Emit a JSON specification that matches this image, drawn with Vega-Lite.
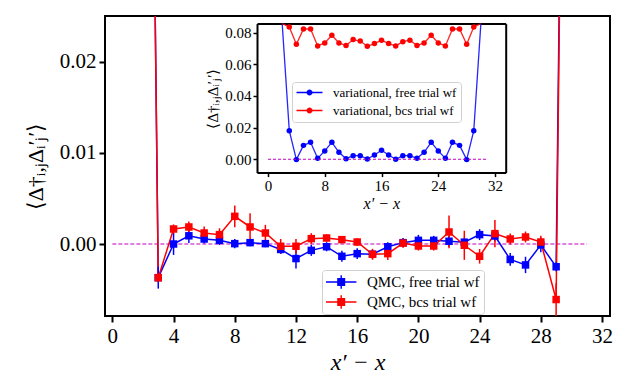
{
  "$schema": "https://vega.github.io/schema/vega-lite/v6.json",
  "width": 505,
  "height": 300,
  "autosize": "none",
  "padding": {"left": 105, "top": 16, "right": 19, "bottom": 63},
  "background": "white",
  "config": {"view": {"stroke": "black", "strokeWidth": 2}, "font": "Liberation Serif"},
  "datasets": {
    "qmc": [
      {"x": 2, "v": 0.14, "err": null, "s": "QMC, free trial wf"},
      {"x": 3, "v": -0.0037, "err": 0.0012, "s": "QMC, free trial wf"},
      {"x": 4, "v": 0.0, "err": 0.0012, "s": "QMC, free trial wf"},
      {"x": 5, "v": 0.0009, "err": 0.0008, "s": "QMC, free trial wf"},
      {"x": 6, "v": 0.00055, "err": 0.0005, "s": "QMC, free trial wf"},
      {"x": 7, "v": 0.0004, "err": 0.0005, "s": "QMC, free trial wf"},
      {"x": 8, "v": 0.00004, "err": 0.0005, "s": "QMC, free trial wf"},
      {"x": 9, "v": 0.00015, "err": 0.0004, "s": "QMC, free trial wf"},
      {"x": 10, "v": 0.00004, "err": 0.0004, "s": "QMC, free trial wf"},
      {"x": 11, "v": -0.0006, "err": 0.0005, "s": "QMC, free trial wf"},
      {"x": 12, "v": -0.0016, "err": 0.0011, "s": "QMC, free trial wf"},
      {"x": 13, "v": -0.0007, "err": 0.0006, "s": "QMC, free trial wf"},
      {"x": 14, "v": -0.0003, "err": 0.0005, "s": "QMC, free trial wf"},
      {"x": 15, "v": -0.00135, "err": 0.0006, "s": "QMC, free trial wf"},
      {"x": 16, "v": -0.00106, "err": 0.0006, "s": "QMC, free trial wf"},
      {"x": 17, "v": -0.00113, "err": 0.0005, "s": "QMC, free trial wf"},
      {"x": 18, "v": -0.0003, "err": 0.0005, "s": "QMC, free trial wf"},
      {"x": 19, "v": 0.00015, "err": 0.0005, "s": "QMC, free trial wf"},
      {"x": 20, "v": 0.0004, "err": 0.0006, "s": "QMC, free trial wf"},
      {"x": 21, "v": 0.0004, "err": 0.0005, "s": "QMC, free trial wf"},
      {"x": 22, "v": 0.0003, "err": 0.0006, "s": "QMC, free trial wf"},
      {"x": 23, "v": 0.0002, "err": 0.0005, "s": "QMC, free trial wf"},
      {"x": 24, "v": 0.00103, "err": 0.0006, "s": "QMC, free trial wf"},
      {"x": 25, "v": 0.00088, "err": 0.0006, "s": "QMC, free trial wf"},
      {"x": 26, "v": -0.0017, "err": 0.0007, "s": "QMC, free trial wf"},
      {"x": 27, "v": -0.0023, "err": 0.0009, "s": "QMC, free trial wf"},
      {"x": 28, "v": -0.0001, "err": 0.0008, "s": "QMC, free trial wf"},
      {"x": 29, "v": -0.0025, "err": 0.0005, "s": "QMC, free trial wf"},
      {"x": 30, "v": 0.14, "err": null, "s": "QMC, free trial wf"},
      {"x": 2, "v": 0.14, "err": null, "s": "QMC, bcs trial wf"},
      {"x": 3, "v": -0.0037, "err": 0.0005, "s": "QMC, bcs trial wf"},
      {"x": 4, "v": 0.00165, "err": 0.0005, "s": "QMC, bcs trial wf"},
      {"x": 5, "v": 0.00187, "err": 0.0006, "s": "QMC, bcs trial wf"},
      {"x": 6, "v": 0.00121, "err": 0.0007, "s": "QMC, bcs trial wf"},
      {"x": 7, "v": 0.00103, "err": 0.0007, "s": "QMC, bcs trial wf"},
      {"x": 8, "v": 0.00304, "err": 0.0012, "s": "QMC, bcs trial wf"},
      {"x": 9, "v": 0.00187, "err": 0.0015, "s": "QMC, bcs trial wf"},
      {"x": 10, "v": 0.00121, "err": 0.0009, "s": "QMC, bcs trial wf"},
      {"x": 11, "v": -0.00025, "err": 0.0008, "s": "QMC, bcs trial wf"},
      {"x": 12, "v": -0.00025, "err": 0.0008, "s": "QMC, bcs trial wf"},
      {"x": 13, "v": 0.00059, "err": 0.0006, "s": "QMC, bcs trial wf"},
      {"x": 14, "v": 0.00066, "err": 0.0004, "s": "QMC, bcs trial wf"},
      {"x": 15, "v": 0.00048, "err": 0.0004, "s": "QMC, bcs trial wf"},
      {"x": 16, "v": 0.00022, "err": 0.0004, "s": "QMC, bcs trial wf"},
      {"x": 17, "v": -0.00113, "err": 0.0006, "s": "QMC, bcs trial wf"},
      {"x": 18, "v": -0.00106, "err": 0.0007, "s": "QMC, bcs trial wf"},
      {"x": 19, "v": 0.0001, "err": 0.0005, "s": "QMC, bcs trial wf"},
      {"x": 20, "v": -0.00022, "err": 0.0005, "s": "QMC, bcs trial wf"},
      {"x": 21, "v": -0.00022, "err": 0.0005, "s": "QMC, bcs trial wf"},
      {"x": 22, "v": 0.00132, "err": 0.0018, "s": "QMC, bcs trial wf"},
      {"x": 23, "v": -0.00014, "err": 0.0016, "s": "QMC, bcs trial wf"},
      {"x": 24, "v": -0.00135, "err": 0.0008, "s": "QMC, bcs trial wf"},
      {"x": 25, "v": 0.00114, "err": 0.0015, "s": "QMC, bcs trial wf"},
      {"x": 26, "v": 0.00055, "err": 0.0006, "s": "QMC, bcs trial wf"},
      {"x": 27, "v": 0.00077, "err": 0.0006, "s": "QMC, bcs trial wf"},
      {"x": 28, "v": 0.00022, "err": 0.0007, "s": "QMC, bcs trial wf"},
      {"x": 29, "v": -0.0061, "err": 0.0018, "s": "QMC, bcs trial wf"},
      {"x": 30, "v": 0.14, "err": null, "s": "QMC, bcs trial wf"}
    ],
    "var": [
      {"x": 2, "v": 0.25, "s": "variational, free trial wf"},
      {"x": 3, "v": 0.0181, "s": "variational, free trial wf"},
      {"x": 4, "v": -0.0002, "s": "variational, free trial wf"},
      {"x": 5, "v": 0.0088, "s": "variational, free trial wf"},
      {"x": 6, "v": 0.0107, "s": "variational, free trial wf"},
      {"x": 7, "v": 0.0006, "s": "variational, free trial wf"},
      {"x": 8, "v": 0.0053, "s": "variational, free trial wf"},
      {"x": 9, "v": 0.0107, "s": "variational, free trial wf"},
      {"x": 10, "v": 0.0044, "s": "variational, free trial wf"},
      {"x": 11, "v": 0.0004, "s": "variational, free trial wf"},
      {"x": 12, "v": 0.0023, "s": "variational, free trial wf"},
      {"x": 13, "v": 0.0023, "s": "variational, free trial wf"},
      {"x": 14, "v": 0.0002, "s": "variational, free trial wf"},
      {"x": 15, "v": 0.0027, "s": "variational, free trial wf"},
      {"x": 16, "v": 0.0057, "s": "variational, free trial wf"},
      {"x": 17, "v": 0.0027, "s": "variational, free trial wf"},
      {"x": 18, "v": 0.0, "s": "variational, free trial wf"},
      {"x": 19, "v": 0.0023, "s": "variational, free trial wf"},
      {"x": 20, "v": 0.0023, "s": "variational, free trial wf"},
      {"x": 21, "v": 0.0006, "s": "variational, free trial wf"},
      {"x": 22, "v": 0.0044, "s": "variational, free trial wf"},
      {"x": 23, "v": 0.0107, "s": "variational, free trial wf"},
      {"x": 24, "v": 0.0053, "s": "variational, free trial wf"},
      {"x": 25, "v": 0.0006, "s": "variational, free trial wf"},
      {"x": 26, "v": 0.0107, "s": "variational, free trial wf"},
      {"x": 27, "v": 0.0088, "s": "variational, free trial wf"},
      {"x": 28, "v": -0.0002, "s": "variational, free trial wf"},
      {"x": 29, "v": 0.0181, "s": "variational, free trial wf"},
      {"x": 30, "v": 0.25, "s": "variational, free trial wf"},
      {"x": 2, "v": 0.25, "s": "variational, bcs trial wf"},
      {"x": 3, "v": 0.0836, "s": "variational, bcs trial wf"},
      {"x": 4, "v": 0.0726, "s": "variational, bcs trial wf"},
      {"x": 5, "v": 0.0823, "s": "variational, bcs trial wf"},
      {"x": 6, "v": 0.0823, "s": "variational, bcs trial wf"},
      {"x": 7, "v": 0.0716, "s": "variational, bcs trial wf"},
      {"x": 8, "v": 0.0735, "s": "variational, bcs trial wf"},
      {"x": 9, "v": 0.0783, "s": "variational, bcs trial wf"},
      {"x": 10, "v": 0.0735, "s": "variational, bcs trial wf"},
      {"x": 11, "v": 0.0718, "s": "variational, bcs trial wf"},
      {"x": 12, "v": 0.0756, "s": "variational, bcs trial wf"},
      {"x": 13, "v": 0.0747, "s": "variational, bcs trial wf"},
      {"x": 14, "v": 0.0714, "s": "variational, bcs trial wf"},
      {"x": 15, "v": 0.0731, "s": "variational, bcs trial wf"},
      {"x": 16, "v": 0.0752, "s": "variational, bcs trial wf"},
      {"x": 17, "v": 0.0731, "s": "variational, bcs trial wf"},
      {"x": 18, "v": 0.0716, "s": "variational, bcs trial wf"},
      {"x": 19, "v": 0.0743, "s": "variational, bcs trial wf"},
      {"x": 20, "v": 0.0752, "s": "variational, bcs trial wf"},
      {"x": 21, "v": 0.0718, "s": "variational, bcs trial wf"},
      {"x": 22, "v": 0.0735, "s": "variational, bcs trial wf"},
      {"x": 23, "v": 0.0783, "s": "variational, bcs trial wf"},
      {"x": 24, "v": 0.0735, "s": "variational, bcs trial wf"},
      {"x": 25, "v": 0.0716, "s": "variational, bcs trial wf"},
      {"x": 26, "v": 0.0823, "s": "variational, bcs trial wf"},
      {"x": 27, "v": 0.0823, "s": "variational, bcs trial wf"},
      {"x": 28, "v": 0.0726, "s": "variational, bcs trial wf"},
      {"x": 29, "v": 0.0836, "s": "variational, bcs trial wf"},
      {"x": 30, "v": 0.25, "s": "variational, bcs trial wf"}
    ],
    "zero": [{"a": 0, "b": 31, "y": 0}]
  },
  "layer": [
    {
      "data": {"name": "zero"},
      "mark": {"type": "rule", "color": "#bf00bf", "strokeWidth": 1.2, "strokeDash": [4, 2]},
      "encoding": {
        "x": {"field": "a", "type": "quantitative", "scale": {"domain": [-0.48, 32.52], "nice": false, "zero": false},
          "axis": {"orient": "bottom", "values": [0, 4, 8, 12, 16, 20, 24, 28, 32], "title": "x′ − x", "grid": false, "domain": false,
            "tickColor": "black", "tickWidth": 2, "tickSize": 6, "labelFont": "Liberation Serif", "labelFontSize": 21, "labelColor": "black",
            "labelPadding": 3, "labelFlush": false, "labelOverlap": false, "titleFont": "Liberation Serif", "titleFontStyle": "italic",
            "titleFontWeight": "normal", "titleFontSize": 24, "titleColor": "black", "titlePadding": 4}},
        "x2": {"field": "b"},
        "y": {"field": "y", "type": "quantitative", "scale": {"domain": [-0.00791, 0.02505], "nice": false, "zero": false},
          "axis": {"orient": "left", "values": [0, 0.01, 0.02], "format": ".2f", "title": "⟨Δ†ᵢ,ⱼΔᵢ′ⱼ′⟩", "grid": false, "domain": false,
            "tickColor": "black", "tickWidth": 2, "tickSize": 6, "labelFont": "Liberation Serif", "labelFontSize": 21, "labelColor": "black",
            "labelPadding": 3, "titleFont": "Liberation Serif", "titleFontWeight": "normal", "titleFontSize": 22, "titleColor": "black", "titlePadding": 12}}
      }
    },
    {
      "data": {"name": "qmc"},
      "mark": {"type": "line", "clip": true, "strokeWidth": 1.5},
      "encoding": {
        "x": {"field": "x", "type": "quantitative", "scale": {"domain": [-0.48, 32.52], "nice": false, "zero": false}, "axis": null},
        "y": {"field": "v", "type": "quantitative", "scale": {"domain": [-0.00791, 0.02505], "nice": false, "zero": false}, "axis": null},
        "color": {"field": "s", "type": "nominal", "scale": {"domain": ["QMC, free trial wf", "QMC, bcs trial wf"], "range": ["#0000ff", "#ff0000"]}, "legend": null}
      }
    },
    {
      "data": {"name": "qmc"},
      "transform": [{"filter": "isValid(datum.err)"}],
      "mark": {"type": "errorbar", "thickness": 1.5},
      "encoding": {
        "x": {"field": "x", "type": "quantitative", "scale": {"domain": [-0.48, 32.52], "nice": false, "zero": false}, "axis": null},
        "y": {"field": "v", "type": "quantitative", "scale": {"domain": [-0.00791, 0.02505], "nice": false, "zero": false}, "axis": null},
        "yError": {"field": "err"},
        "color": {"field": "s", "type": "nominal", "scale": {"domain": ["QMC, free trial wf", "QMC, bcs trial wf"], "range": ["#0000ff", "#ff0000"]}, "legend": null}
      }
    },
    {
      "data": {"name": "qmc"},
      "transform": [{"filter": "isValid(datum.err)"}],
      "mark": {"type": "point", "shape": "square", "filled": true, "size": 56, "opacity": 1},
      "encoding": {
        "x": {"field": "x", "type": "quantitative", "scale": {"domain": [-0.48, 32.52], "nice": false, "zero": false}, "axis": null},
        "y": {"field": "v", "type": "quantitative", "scale": {"domain": [-0.00791, 0.02505], "nice": false, "zero": false}, "axis": null},
        "color": {"field": "s", "type": "nominal", "scale": {"domain": ["QMC, free trial wf", "QMC, bcs trial wf"], "range": ["#0000ff", "#ff0000"]},
          "legend": {"orient": "none", "legendX": 217, "legendY": 254, "title": null,
            "symbolType": "M-1,-0.09H2.8V0.09H-1Z M0.4,-0.5H1.4V0.5H0.4Z M0.81,-0.85H0.99V0.85H0.81Z",
            "symbolSize": 256, "symbolStrokeWidth": 0, "symbolOpacity": 1, "labelFont": "Liberation Serif", "labelFontSize": 15, "labelColor": "black",
            "labelOffset": 25, "fillColor": "white", "strokeColor": "#d0d0d0", "cornerRadius": 3, "padding": 4, "rowPadding": 4}}
      }
    },
    {
      "data": {"name": "var"},
      "mark": {"type": "line", "strokeWidth": 1.3, "opacity": 0.85},
      "encoding": {
        "x": {"field": "x", "type": "quantitative", "scale": {"domain": [-1.55, 33.5], "range": [152, 400.7], "nice": false, "zero": false},
          "axis": {"orient": "bottom", "offset": -143.4, "values": [0, 8, 16, 24, 32], "title": "x′ − x", "grid": false,
            "domainColor": "black", "domainWidth": 2, "tickColor": "black", "tickWidth": 1.5, "tickSize": 4,
            "labelFont": "Liberation Serif", "labelFontSize": 15, "labelColor": "black", "labelPadding": 2, "labelFlush": false,
            "titleFont": "Liberation Serif", "titleFontStyle": "italic", "titleFontWeight": "normal", "titleFontSize": 16, "titleColor": "black", "titlePadding": 2}},
        "y": {"field": "v", "type": "quantitative", "scale": {"domain": [-0.0084, 0.0857], "range": [156.6, 7.6], "nice": false, "zero": false, "clamp": true},
          "axis": {"orient": "left", "offset": -152, "values": [0, 0.02, 0.04, 0.06, 0.08], "format": ".2f", "title": "⟨Δ†ᵢ,ⱼΔᵢ′ⱼ′⟩", "grid": false,
            "domainColor": "black", "domainWidth": 2, "tickColor": "black", "tickWidth": 1.5, "tickSize": 4,
            "labelFont": "Liberation Serif", "labelFontSize": 15, "labelColor": "black", "labelPadding": 2,
            "titleFont": "Liberation Serif", "titleFontWeight": "normal", "titleFontSize": 15, "titleColor": "black", "titlePadding": 4}},
        "color": {"field": "s", "type": "nominal", "scale": {"domain": ["variational, free trial wf", "variational, bcs trial wf"], "range": ["#0000ff", "#ff0000"]}, "legend": null}
      }
    },
    {
      "data": {"name": "var"},
      "transform": [{"filter": {"field": "x", "range": [3, 29]}}],
      "mark": {"type": "point", "shape": "circle", "filled": true, "size": 30, "opacity": 1},
      "encoding": {
        "x": {"field": "x", "type": "quantitative", "scale": {"domain": [-1.55, 33.5], "range": [152, 400.7], "nice": false, "zero": false}, "axis": null},
        "y": {"field": "v", "type": "quantitative", "scale": {"domain": [-0.0084, 0.0857], "range": [156.6, 7.6], "nice": false, "zero": false, "clamp": true}, "axis": null},
        "color": {"field": "s", "type": "nominal", "scale": {"domain": ["variational, free trial wf", "variational, bcs trial wf"], "range": ["#0000ff", "#ff0000"]},
          "legend": {"orient": "none", "legendX": 187, "legendY": 66, "title": null,
            "symbolType": "M-1,-0.12H3.33V0.12H-1Z M0.67,0 A0.5,0.5 0 1,1 1.67,0 A0.5,0.5 0 1,1 0.67,0Z",
            "symbolSize": 144, "symbolStrokeWidth": 0, "symbolOpacity": 1, "labelFont": "Liberation Serif", "labelFontSize": 13, "labelColor": "black",
            "labelOffset": 24, "fillColor": "white", "strokeColor": "#d0d0d0", "cornerRadius": 3, "padding": 4, "rowPadding": 4}}
      }
    },
    {
      "data": {"name": "zero"},
      "mark": {"type": "rule", "color": "#bf00bf", "strokeWidth": 1.1, "strokeDash": [3, 2]},
      "encoding": {
        "x": {"field": "a", "type": "quantitative", "scale": {"domain": [-1.55, 33.5], "range": [152, 400.7], "nice": false, "zero": false},
          "axis": {"orient": "top", "offset": -7.6, "title": null, "labels": false, "ticks": false, "grid": false, "domainColor": "black", "domainWidth": 2}},
        "x2": {"field": "b"},
        "y": {"field": "y", "type": "quantitative", "scale": {"domain": [-0.0084, 0.0857], "range": [156.6, 7.6], "nice": false, "zero": false},
          "axis": {"orient": "right", "offset": -104.3, "title": null, "labels": false, "ticks": false, "grid": false, "domainColor": "black", "domainWidth": 2}}
      }
    }
  ],
  "resolve": {"scale": {"x": "independent", "y": "independent", "color": "independent"}, "axis": {"x": "independent", "y": "independent"}, "legend": {"color": "independent"}}
}
